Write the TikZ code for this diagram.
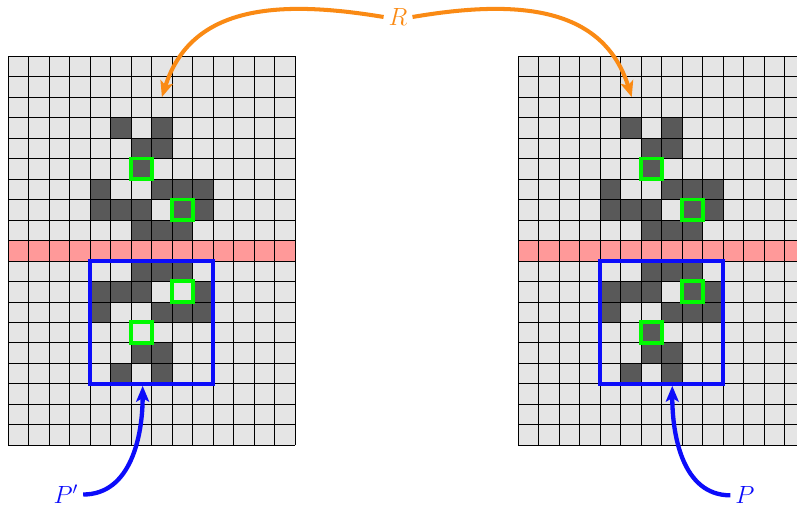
\documentclass[tikz,border=0pt]{standalone}
\usetikzlibrary{arrows.meta}
\definecolor{cellgray}{RGB}{229,229,229}
\definecolor{celldark}{RGB}{89,89,89}
\definecolor{rowpink}{RGB}{255,153,153}
\definecolor{myorange}{RGB}{250,138,20}
\definecolor{myblue}{RGB}{12,12,250}
\definecolor{mygreen}{RGB}{0,250,0}
\newcommand\mygridpic[1]{%
  \fill[cellgray] (0,0) rectangle (14,19);
  \fill[rowpink] (0,9) rectangle (14,10);
  \foreach \c/\r in {#1} \fill[celldark] (\c,18-\r) rectangle ++(1,1);
  \draw[gridline] (0,0) grid (14,19);
  \foreach \c/\r in {6/5,8/7,8/11,6/13} \draw[greenbox] (\c,18-\r) rectangle ++(1,1);
  \draw[bluebox] (4,3) rectangle (10,9);
}
\begin{document}
\begin{tikzpicture}[x=0.5cm,y=0.5cm,
  gridline/.style={line width=0.5pt,black,step=0.5cm},
  greenbox/.style={draw=mygreen,line width=2.7pt},
  bluebox/.style={draw=myblue,line width=2.7pt},
  labeltext/.style={font=\LARGE,inner ysep=1pt},
  orangearrow/.style={draw=myorange,line width=2.8pt,-{Stealth[length=11pt,width=9pt,inset=2.5pt]}},
  bluearrow/.style={draw=myblue,line width=3pt,-{Stealth[length=11pt,width=9pt,inset=2.5pt]}}]
\clip (-0.405,-3.01) rectangle (38.51,21.74);
% left grid (P')
\begin{scope}
\mygridpic{5/3,7/3,6/4,7/4,6/5,4/6,7/6,8/6,9/6,4/7,5/7,6/7,8/7,9/7,6/8,7/8,8/8,
  6/10,7/10,8/10,4/11,5/11,6/11,9/11,4/12,7/12,8/12,9/12,6/14,7/14,5/15,7/15}
\end{scope}
% right grid (P)
\begin{scope}[xshift=12.45cm]
\mygridpic{5/3,7/3,6/4,7/4,6/5,4/6,7/6,8/6,9/6,4/7,5/7,6/7,8/7,9/7,6/8,7/8,8/8,
  6/10,7/10,8/10,4/11,5/11,6/11,8/11,9/11,4/12,7/12,8/12,9/12,6/13,6/14,7/14,5/15,7/15}
\end{scope}
% labels
\node[labeltext,text=myorange] (R) at (19.03,20.91) {$R$};
\node[labeltext,text=myblue,anchor=base] (Pp) at (2.81,-2.86) {$P'$};
\node[labeltext,text=myblue,anchor=base] (P) at (35.97,-2.86) {$P$};
% arrow targets
\coordinate (Ltip) at (7.5,17);
\coordinate (Rtip) at (30.44,17);
\coordinate (Lbtip) at (6.56,2.9);
\coordinate (Rbtip) at (32.42,2.9);
% connectors
\draw[orangearrow] (R.west) .. controls (13,21.8) and (8.9,21.4) .. (Ltip);
\draw[orangearrow] (R.east) .. controls (24.94,21.8) and (29.04,21.4) .. (Rtip);
\draw[bluearrow] (Pp.east) to[out=0,in=-90] (Lbtip);
\draw[bluearrow] (P.west) to[out=180,in=-90] (Rbtip);
\end{tikzpicture}
\end{document}
